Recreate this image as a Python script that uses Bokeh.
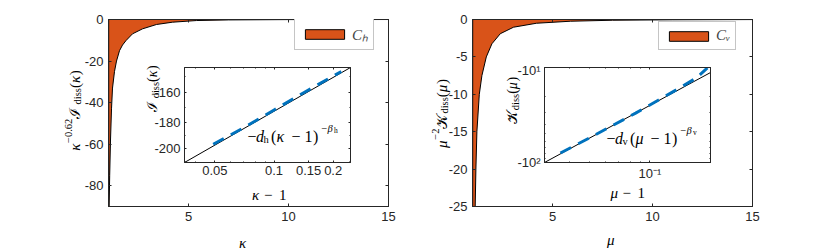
import numpy as np
from bokeh.plotting import figure
from bokeh.models import (Range1d, FixedTicker, LinearAxis, LogAxis, Label,
                          Legend, LegendItem, GridBox)
from bokeh.embed import file_html
from bokeh.resources import INLINE

# ---------------- data ----------------
kappa = [1.01, 1.03, 1.06, 1.10, 1.15, 1.20, 1.30, 1.40, 1.55, 1.70, 1.87,
         2.2, 2.7, 3.4, 4.2, 5.4, 7.0, 10.0, 15.0]
I_scaled = [-130, -90, -75, -58, -43, -33, -25, -20, -15, -12.3, -10.2,
            -6.9, -4.5, -2.4, -1.3, -0.5, -0.2, -0.05, -0.01]

mu = [1.01, 1.10, 1.135, 1.17, 1.22, 1.34, 1.47, 1.69, 1.97, 2.39, 3.05,
      4.2, 5.9, 8.0, 11.0, 15.0]
K_scaled = [-60, -32, -25, -20, -15, -10, -7.5, -5, -3.25, -1.9, -1.03,
            -0.5, -0.23, -0.1, -0.04, -0.01]

km1_fit = [0.035, 0.245]
I_fit = [-211, -145]
km1_data = [0.049, 0.07, 0.1, 0.14, 0.2, 0.22]
I_data = [-196.3, -184.0, -171.5, -160.5, -150.0, -147.3]

mm1_fit = [0.03, 0.2]
K_fit = [-100, -11.3]
mm1_data = [0.036, 0.05, 0.065, 0.085, 0.11, 0.145, 0.17, 0.193]
K_data = [-79.5, -55.3, -41.0, -30.2, -22.1, -15.8, -12.9, -10.1]

main_x_ticks = [5, 10, 15]
left_y_ticks = [-80, -60, -40, -20, 0]
right_y_ticks = [-25, -20, -15, -10, -5, 0]
inset1_x_ticks = [0.05, 0.1, 0.15, 0.2]
inset1_x_labels = ["0.05", "0.1", "0.15", "0.2"]
inset1_x_minor = [0.04, 0.06, 0.07, 0.08, 0.09]
inset1_y_ticks = [160, 180, 200]
inset1_y_labels = ["-160", "-180", "-200"]
inset1_y_minor = [150, 170, 190, 210]
inset2_x_ticks = [0.1]
inset2_x_labels = ["10\u207b\u00b9"]
inset2_x_minor = [0.03, 0.04, 0.05, 0.06, 0.07, 0.08, 0.09, 0.2]
inset2_y_ticks = [10, 100]
inset2_y_labels = ["-10\u00b9", "-10\u00b2"]
inset2_y_minor = [20, 30, 40, 50, 60, 70, 80, 90]

ORANGE = "#D95319"
BLUE = "#0072BD"
AX = "#262626"
SERIF = "Liberation Serif"
SANS = "Liberation Sans"

# ---------------- helpers ----------------
WID = {'\u2212': 0.564, '-': 0.333, '(': 0.333, ')': 0.333, ' ': 0.25,
       '.': 0.25, 'd': 0.5, 'i': 0.278, 's': 0.389, 'h': 0.5, 'v': 0.5,
       '\u03ba': 0.52, '\u03bc': 0.55, '\u03b2': 0.52, '\u2110': 0.95,
       '\U0001d4a6': 1.0, '1': 0.5, '0': 0.5, '2': 0.5, '6': 0.5}


def wid(t, s):
    return sum(WID.get(c, 0.5) for c in t) * s


def put(fig, x, y, t, s, st, angle=0.0, xo=0.0, yo=0.0):
    lab = Label(x=x, y=y, x_offset=xo, y_offset=yo, angle=angle, text=t)
    lab.text_font = SERIF
    lab.text_font_size = f"{s}px"
    lab.text_font_style = st
    lab.text_color = "black"
    lab.text_align = "left"
    lab.text_baseline = "alphabetic"
    fig.add_layout(lab)


def compose_v(fig, bx, cy, pieces):
    """Vertical (rotated) run of pieces (text, size, style, raise), centred at cy."""
    widths = [wid(t, s) for t, s, st, sh in pieces]
    pos = -sum(widths) / 2.0
    for (t, s, st, sh), w in zip(pieces, widths):
        put(fig, bx, cy, t, s, st, angle=np.pi / 2, xo=-sh, yo=pos)
        pos += w


def compose_h(fig, x0, by, pieces):
    """Horizontal pieces (text, size, style, raise, dx) placed at x0 + dx."""
    for t, s, st, sh, dx in pieces:
        put(fig, x0, by, t, s, st, xo=dx, yo=sh)


def style_axis(ax, ticks, labels=True, tick_len=3, minor=None, minor_len=0,
               overrides=None, standoff=5):
    ax.ticker = FixedTicker(ticks=ticks, minor_ticks=minor or [])
    ax.major_tick_in = tick_len
    ax.major_tick_out = 0
    ax.minor_tick_in = minor_len
    ax.minor_tick_out = 0
    ax.axis_line_color = AX
    ax.major_tick_line_color = AX
    ax.minor_tick_line_color = AX if minor else None
    ax.major_label_text_font = SANS
    ax.major_label_text_color = AX
    ax.axis_label = None
    if labels:
        ax.major_label_text_font_size = "13px"
        ax.major_label_standoff = standoff
        ax.major_label_overrides = overrides or {t: str(t) for t in ticks}
    else:
        ax.major_label_text_font_size = "0px"
        ax.major_label_standoff = 0
        ax.major_label_text_alpha = 0


def main_fig(xs, ys, y_lo, yticks, leg_label, min_left, width):
    p = figure(width=width, height=248, x_range=Range1d(1, 15),
               y_range=Range1d(y_lo, 0), output_backend="svg",
               toolbar_location=None, min_border_left=min_left,
               min_border_right=20, min_border_top=19, min_border_bottom=42,
               background_fill_color="white", border_fill_color="white")
    p.grid.visible = False
    p.outline_line_color = AX
    p.outline_line_width = 1
    style_axis(p.xaxis[0], main_x_ticks, standoff=5)
    style_axis(p.yaxis[0], yticks)
    top = LinearAxis()
    style_axis(top, main_x_ticks, labels=False)
    rgt = LinearAxis()
    style_axis(rgt, yticks, labels=False)
    p.add_layout(top, "above")
    p.add_layout(rgt, "right")

    poly_x = list(xs) + list(xs)[::-1]
    poly_y = list(ys) + [0.0] * len(xs)
    r = p.patch(poly_x, poly_y, fill_color=ORANGE, line_color="black",
                line_width=1)
    leg = Legend(items=[LegendItem(label=leg_label, renderers=[r])],
                 location=(186, 156))
    leg.margin = 0
    leg.padding = 5
    leg.spacing = 0
    leg.glyph_width = 49
    leg.glyph_height = 12
    leg.label_height = 12
    leg.label_width = 10
    leg.label_standoff = 3
    leg.label_text_font = SERIF
    leg.label_text_font_style = "italic"
    leg.label_text_font_size = "15px"
    leg.border_line_color = "#8c8c8c"
    leg.border_line_width = 1
    leg.background_fill_alpha = 1
    p.add_layout(leg)
    return p


def inset_fig(xr, yr, xt, xl, xm, yt, yl, ym, fx, fy, dx, dy):
    q = figure(width=222, height=140, x_axis_type="log", y_axis_type="log",
               x_range=Range1d(xr[0], xr[1]), y_range=Range1d(yr[0], yr[1]),
               min_border_left=50, min_border_right=6, min_border_top=5,
               min_border_bottom=40, output_backend="svg",
               toolbar_location=None, background_fill_color="white",
               border_fill_alpha=0)
    q.grid.visible = False
    q.outline_line_color = AX
    style_axis(q.xaxis[0], xt, tick_len=2, minor=xm, minor_len=1,
               overrides=dict(zip(xt, xl)), standoff=3)
    style_axis(q.yaxis[0], yt, tick_len=2, minor=ym, minor_len=1,
               overrides=dict(zip(yt, yl)), standoff=4)
    top = LogAxis()
    style_axis(top, xt, labels=False, tick_len=2, minor=xm, minor_len=1)
    rgt = LogAxis()
    style_axis(rgt, yt, labels=False, tick_len=2, minor=ym, minor_len=1)
    q.add_layout(top, "above")
    q.add_layout(rgt, "right")
    q.line(fx, np.abs(fy), line_color="black", line_width=1)
    q.line(dx, np.abs(dy), line_color=BLUE, line_width=3, line_dash="12 8")
    return q


p1 = main_fig(kappa, I_scaled, -90, left_y_ticks, "C\u2095", 108, 408)
p2 = main_fig(mu, K_scaled, -25, right_y_ticks, "C\u1d65", 64, 364)

q1 = inset_fig((0.035, 0.245), (211, 145), inset1_x_ticks, inset1_x_labels,
               inset1_x_minor, inset1_y_ticks, inset1_y_labels, inset1_y_minor,
               km1_fit, I_fit, km1_data, I_data)
q2 = inset_fig((0.03, 0.2), (100, 10), inset2_x_ticks, inset2_x_labels,
               inset2_x_minor, inset2_y_ticks, inset2_y_labels, inset2_y_minor,
               mm1_fit, K_fit, mm1_data, K_data)

# transparent text layer over the whole page (page pixel coordinates)
ov = figure(width=830, height=250, x_range=Range1d(0, 830),
            y_range=Range1d(250, 0), min_border=0, output_backend="svg",
            toolbar_location=None, x_axis_location=None, y_axis_location=None,
            background_fill_alpha=0, border_fill_alpha=0,
            outline_line_color=None)
ov.grid.visible = False

S, s, ss = 15, 10.5, 7.5
Si = 14
# main y labels
compose_v(ov, 74, 110, [("\u03ba", S, "italic", 0), ("\u22120.62", s, "normal", 6),
                        ("\u2110", S, "normal", 0), ("diss", s, "normal", -3),
                        ("(", S, "normal", 0), ("\u03ba", S, "italic", 0),
                        (")", S, "normal", 0)])
compose_v(ov, 441, 113, [("\u03bc", S, "italic", 0), ("\u22122", s, "normal", 6),
                         ("\U0001d4a6", S, "normal", 0), ("diss", s, "normal", -3),
                         ("(", S, "normal", 0), ("\u03bc", S, "italic", 0),
                         (")", S, "normal", 0)])
# inset y labels
compose_v(ov, 152, 88, [("\u2110", Si, "normal", 0), ("diss", s, "normal", -3),
                        ("(", Si, "normal", 0), ("\u03ba", Si, "italic", 0),
                        (")", Si, "normal", 0)])
compose_v(ov, 512, 100, [("\U0001d4a6", Si, "normal", 0), ("diss", s, "normal", -3),
                         ("(", Si, "normal", 0), ("\u03bc", Si, "italic", 0),
                         (")", Si, "normal", 0)])
# main x labels
compose_h(ov, 238.5, 242, [("\u03ba", S, "italic", 0, 0)])
compose_h(ov, 606.5, 239, [("\u03bc", S, "italic", 0, 0)])
# inset x labels
compose_h(ov, 251.5, 194, [("\u03ba", S, "italic", 0, 0),
                           ("\u2212", S, "normal", 0, 12),
                           ("1", S, "normal", 0, 27)])
compose_h(ov, 610, 192, [("\u03bc", S, "italic", 0, 0),
                         ("\u2212", S, "normal", 0, 12),
                         ("1", S, "normal", 0, 27)])
# inset annotations
A = 16
for x0, by, sub in ((247, 136, "h"), (606, 138, "v")):
    compose_h(ov, x0, by, [("\u2212", A, "normal", 0, 0),
                           ("d", A, "italic", 0, 8.5),
                           (sub, s, "normal", -3, 16),
                           ("(", A, "normal", 0, 23.5),
                           ("\u03ba" if sub == "h" else "\u03bc", A, "italic", 0, 29),
                           ("\u2212", A, "normal", 0, 44),
                           ("1", A, "normal", 0, 57),
                           (")", A, "normal", 0, 65.5),
                           ("\u2212", s, "normal", 8, 74),
                           ("\u03b2", s, "italic", 8, 80),
                           (sub, ss, "normal", 6, 86.5)])

grid = GridBox(children=[(p1, 1, 1, 3, 3), (p2, 1, 4, 3, 3), (q1, 2, 2, 1, 1),
                         (q2, 2, 5, 1, 1), (ov, 0, 0, 5, 8)],
               rows=["0px", "62px", "140px", "46px", "2px"],
               cols=["0px", "134px", "222px", "52px", "86px", "222px", "56px",
                     "58px"])

open("out.html", "w").write(file_html(grid, INLINE))
